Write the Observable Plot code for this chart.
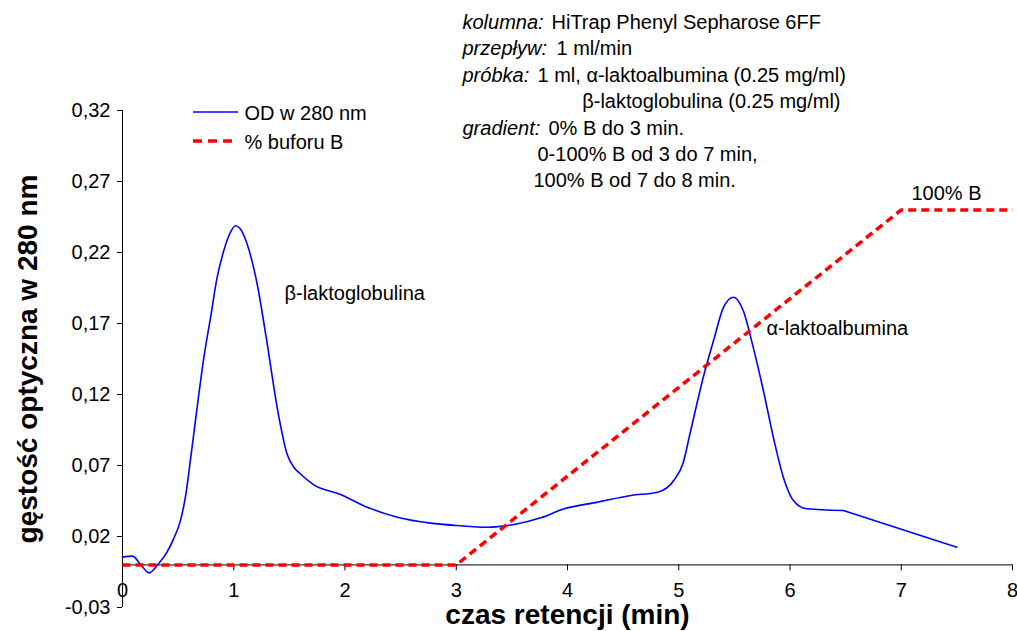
<!DOCTYPE html>
<html>
<head>
<meta charset="utf-8">
<script src="https://cdn.jsdelivr.net/npm/d3@7"></script>
<script src="https://cdn.jsdelivr.net/npm/@observablehq/plot@0.6"></script>
<style>
  html, body { margin: 0; padding: 0; background: #fff; }
  #chart { width: 1017px; height: 631px; overflow: hidden; }
</style>
</head>
<body>
<div id="chart"></div>
<script>
// ---- data ----
const time = [0, 0.09, 0.16, 0.24, 0.32, 0.40, 0.46, 0.52, 0.566, 0.61, 0.671, 0.731, 0.791, 0.851, 0.911, 0.971, 1.016, 1.06, 1.12, 1.21, 1.30, 1.39, 1.48, 1.54, 1.60, 1.72, 1.96, 2.2, 2.47, 2.77, 3.01, 3.28, 3.52, 3.76, 3.97, 4.27, 4.57, 4.81, 4.96, 5.04, 5.10, 5.22, 5.32, 5.40, 5.49, 5.58, 5.67, 5.76, 5.85, 5.94, 6.03, 6.15, 6.48, 7.5];
const od = [0.0055, 0.0062, 0.0005, -0.0056, 0.0005, 0.009, 0.0185, 0.031, 0.048, 0.0735, 0.111, 0.146, 0.174, 0.2026, 0.2214, 0.2343, 0.2388, 0.2365, 0.226, 0.198, 0.156, 0.111, 0.078, 0.0688, 0.064, 0.0564, 0.0496, 0.0406, 0.0336, 0.0294, 0.0277, 0.0265, 0.0285, 0.0332, 0.0395, 0.0442, 0.0489, 0.0512, 0.060, 0.072, 0.092, 0.132, 0.160, 0.181, 0.1885, 0.179, 0.153, 0.123, 0.090, 0.0618, 0.0454, 0.0395, 0.0383, 0.0125];
const bufferTime = [0, 3, 7, 8];
const bufferPercent = [0, 0, 100, 100];
const bufferToOD = 0.0025; // 100 % B is drawn at the 0.25 level of the OD axis
const xTicks = [0, 1, 2, 3, 4, 5, 6, 7, 8];
const yTicks = [-0.03, 0.02, 0.07, 0.12, 0.17, 0.22, 0.27, 0.32];
const smoothEnd = 6.48; // after this time the trace is a straight segment

const odData = time.map((t, i) => ({t, v: od[i]}));
const bufData = bufferTime.map((t, i) => ({t, v: bufferPercent[i] * bufferToOD}));

const FONT = "'Liberation Sans', Arial, Helvetica, sans-serif";
const FS = 20;
const ML = 122, MT = 110;
const fmt = d => d.toFixed(2).replace(".", ",");

// text placed in pixel coordinates of the picture (annotations)
function note(str, px, py, opts = {}) {
  return Plot.text([str], {
    frameAnchor: "top-left", dx: px - ML, dy: py - MT,
    textAnchor: "start", lineAnchor: "middle", fontSize: FS, fill: "#000", ...opts
  });
}

const chart = Plot.plot({
  width: 1017, height: 631,
  marginLeft: ML, marginRight: 5, marginTop: MT, marginBottom: 24,
  x: {domain: [0, 8], axis: null},
  y: {domain: [-0.03, 0.32], axis: null},
  style: {fontFamily: FONT, fontSize: FS + "px", color: "#000", background: "#fff", overflow: "visible"},
  marks: [
    Plot.axisY({ticks: yTicks, tickSize: 5, tickPadding: 7, tickFormat: fmt, label: null, fontSize: FS}),
    Plot.ruleX([0], {stroke: "#000", strokeWidth: 1}),
    Plot.ruleY([0], {stroke: "#000", strokeWidth: 1}),
    Plot.ruleX(xTicks, {x: d => d, y1: 0, y2: -0.0042, stroke: "#000"}),
    Plot.text(xTicks, {x: d => d, y: 0, dy: 26, text: d => String(d), fontSize: FS}),
    Plot.line(odData.filter(d => d.t <= smoothEnd), {x: "t", y: "v", stroke: "#0000ff", strokeWidth: 1.6, curve: "monotone-x"}),
    Plot.line(odData.filter(d => d.t >= smoothEnd), {x: "t", y: "v", stroke: "#0000ff", strokeWidth: 1.6}),
    Plot.line(bufData, {x: "t", y: "v", stroke: "#ff0000", strokeWidth: 3.5, strokeDasharray: "8,5", strokeLinecap: "butt"}),
    // axis titles
    Plot.text(["czas retencji (min)"], {frameAnchor: "bottom", lineAnchor: "middle", textAnchor: "middle", dy: 8, fontSize: 28, fontWeight: "bold"}),
    Plot.text(["gęstość optyczna w 280 nm"], {frameAnchor: "left", textAnchor: "middle", lineAnchor: "middle", dx: -94.5, rotate: -90, fontSize: 28, fontWeight: "bold"}),
    // peak labels
    note("β-laktoglobulina", 284, 293),
    note("α-laktoalbumina", 766, 328),
    note("100% B", 911, 193),
    // legend texts
    note("OD w 280 nm", 244, 113),
    note("% buforu B", 244, 142),
    // method description
    note("kolumna:", 462, 22, {fontStyle: "italic"}),
    note("HiTrap Phenyl Sepharose 6FF", 551, 22),
    note("przepływ:", 462, 48, {fontStyle: "italic"}),
    note("1 ml/min", 556, 48),
    note("próbka:", 462, 75, {fontStyle: "italic"}),
    note("1 ml, α-laktoalbumina (0.25 mg/ml)", 537, 75),
    note("β-laktoglobulina (0.25 mg/ml)", 840, 101, {textAnchor: "end"}),
    note("gradient:", 462, 128, {fontStyle: "italic"}),
    note("0% B do 3 min.", 548, 128),
    note("0-100% B od 3 do 7 min,", 537, 154),
    note("100% B od 7 do 8 min.", 533, 180)
  ]
});

// legend samples
const svg = d3.select(chart);
svg.append("line").attr("x1", 193).attr("x2", 238).attr("y1", 112).attr("y2", 112)
  .attr("stroke", "#0000ff").attr("stroke-width", 1.6);
svg.append("line").attr("x1", 193).attr("x2", 236).attr("y1", 141).attr("y2", 141)
  .attr("stroke", "#ff0000").attr("stroke-width", 3.5).attr("stroke-dasharray", "9,6");

document.getElementById("chart").appendChild(chart);
</script>
</body>
</html>
